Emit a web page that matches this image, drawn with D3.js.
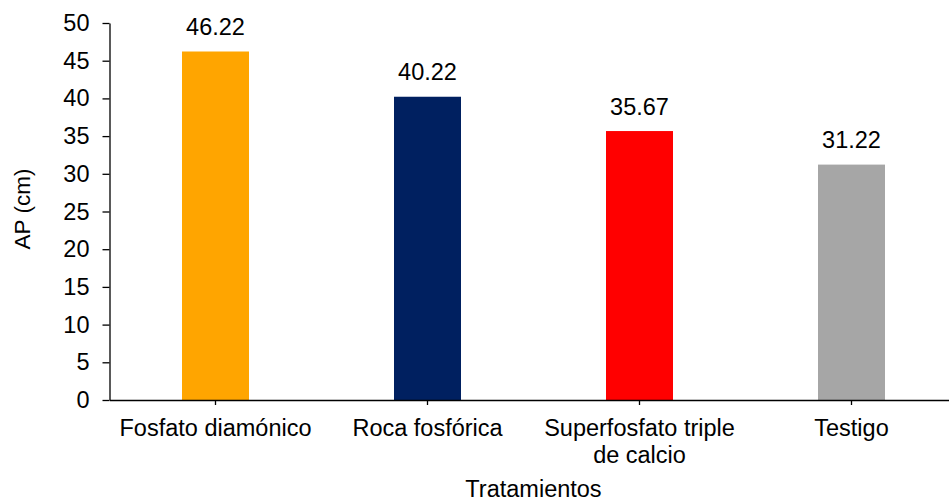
<!DOCTYPE html>
<html>
<head>
<meta charset="utf-8">
<script src="https://cdn.jsdelivr.net/npm/d3@7"></script>
<style>
  html, body { margin: 0; padding: 0; background: #fff; }
  svg text { font-family: Arial, "Liberation Sans", sans-serif; fill: #000; }
</style>
</head>
<body>
<svg id="chart" width="949" height="502"></svg>
<script>
// Treatments, mean plant height (cm) and bar colours
const categories = ["Fosfato diamónico", "Roca fosfórica", "Superfosfato triple\nde calcio", "Testigo"];
const values = [46.22, 40.22, 35.67, 31.22];
const colors = ["#FFA500", "#002060", "#FF0000", "#A6A6A6"];
const yTicks = [0, 5, 10, 15, 20, 25, 30, 35, 40, 45, 50];
const yTitle = "AP (cm)";
const xTitle = "Tratamientos";

const fontSize = 23.5;
const svg = d3.select("#chart");
const plotLeft = 109.5, plotRight = 957.5, plotTop = 23, plotBottom = 400;

const x = d3.scaleBand()
  .domain(categories)
  .range([plotLeft, plotRight])
  .paddingInner(0.684)
  .paddingOuter(0.342);

const y = d3.scaleLinear().domain([0, 50]).range([plotBottom, plotTop]);

// Y axis
const gy = svg.append("g")
  .attr("transform", `translate(${plotLeft},0)`)
  .call(d3.axisLeft(y).tickValues(yTicks).tickSize(7).tickSizeOuter(0).tickPadding(13));
gy.selectAll("text").style("font-size", fontSize + "px");
gy.selectAll("line, path").attr("stroke", "#000").attr("stroke-width", 1.3);

// Bars
svg.append("g").selectAll("rect")
  .data(values)
  .join("rect")
  .attr("x", (d, i) => x(categories[i]))
  .attr("y", d => y(d))
  .attr("width", x.bandwidth())
  .attr("height", d => y(0) - y(d))
  .attr("fill", (d, i) => colors[i]);

// X axis
const gx = svg.append("g")
  .attr("transform", `translate(0,${plotBottom})`)
  .call(d3.axisBottom(x).tickSize(5).tickSizeOuter(0).tickPadding(0));
gx.selectAll("line, path").attr("stroke", "#000").attr("stroke-width", 1.3);
gx.selectAll(".tick text").each(function(d) {
  const t = d3.select(this);
  t.text(null).attr("y", 0).attr("dy", null).style("font-size", fontSize + "px");
  d.split("\n").forEach((line, i) => {
    t.append("tspan").attr("x", 0).attr("y", 36 + i * 27).text(line);
  });
});

// Value labels
svg.append("g").selectAll("text")
  .data(values)
  .join("text")
  .attr("x", (d, i) => x(categories[i]) + x.bandwidth() / 2)
  .attr("y", d => y(d) - 16.5)
  .attr("text-anchor", "middle")
  .style("font-size", fontSize + "px")
  .text(d => d.toFixed(2));

// Axis titles
svg.append("text")
  .attr("transform", "translate(30,209) rotate(-90)")
  .attr("text-anchor", "middle")
  .style("font-size", "22.5px")
  .text(yTitle);

svg.append("text")
  .attr("x", (plotLeft + plotRight) / 2)
  .attr("y", 497)
  .attr("text-anchor", "middle")
  .style("font-size", fontSize + "px")
  .text(xTitle);
</script>
</body>
</html>
